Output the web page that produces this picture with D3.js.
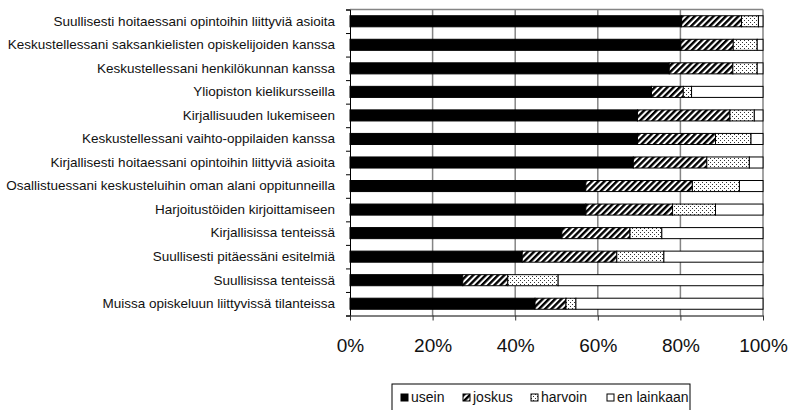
<!DOCTYPE html>
<html>
<head>
<meta charset="utf-8">
<script src="https://cdn.jsdelivr.net/npm/d3@7"></script>
<style>
  body { margin: 0; background: #fff; }
  svg { display: block; font-family: "Liberation Sans", Arial, sans-serif; }
</style>
</head>
<body>
<svg id="chart" width="793" height="410"></svg>
<script>
// categories, top to bottom
const categories = [
  "Suullisesti hoitaessani opintoihin liittyviä asioita",
  "Keskustellessani saksankielisten opiskelijoiden kanssa",
  "Keskustellessani henkilökunnan kanssa",
  "Yliopiston kielikursseilla",
  "Kirjallisuuden lukemiseen",
  "Keskustellessani vaihto-oppilaiden kanssa",
  "Kirjallisesti hoitaessani opintoihin liittyviä asioita",
  "Osallistuessani keskusteluihin oman alani oppitunneilla",
  "Harjoitustöiden kirjoittamiseen",
  "Kirjallisissa tenteissä",
  "Suullisesti pitäessäni esitelmiä",
  "Suullisissa tenteissä",
  "Muissa opiskeluun liittyvissä tilanteissa"
];
const seriesNames = ["usein", "joskus", "harvoin", "en lainkaan"];
// shares in percent, same order as categories
const usein      = [80.3, 80.1, 77.3, 73.0, 69.6, 69.6, 68.6, 57.1, 57.1, 51.3, 41.7, 27.3, 44.8];
const joskus     = [14.5, 12.7, 15.4,  7.7, 22.4, 18.9, 17.8, 25.8, 21.0, 16.5, 22.9, 10.9,  7.5];
const harvoin    = [ 4.1,  5.8,  5.9,  2.0,  5.9,  8.6, 10.3, 11.4, 10.4,  7.7, 11.4, 12.2,  2.4];
const enLainkaan = [ 1.1,  1.4,  1.4, 17.3,  2.1,  2.9,  3.3,  5.7, 11.5, 24.5, 24.0, 49.6, 45.3];
const xTicks = [0, 0.2, 0.4, 0.6, 0.8, 1];

const svg = d3.select("#chart");
const margin = {left: 350, right: 30, top: 9.5, bottom: 94.5};
const W = 793, H = 410;

const rows = categories.map((c, i) => ({
  cat: c,
  "usein": usein[i], "joskus": joskus[i], "harvoin": harvoin[i], "en lainkaan": enLainkaan[i]
}));
const stacked = d3.stack().keys(seriesNames)
  .value((d, k) => d[k] / 100)(rows);

const x = d3.scaleLinear().domain([0, 1]).range([margin.left, 763]);
const y = d3.scaleBand().domain(categories)
  .range([margin.top, H - margin.bottom])
  .paddingInner(0.53).paddingOuter(0.265);

// patterns
const defs = svg.append("defs");
defs.append("pattern")
  .attr("id", "hatch")
  .attr("patternUnits", "userSpaceOnUse")
  .attr("width", 4.4).attr("height", 4.4)
  .attr("patternTransform", "rotate(45)")
  .call(p => {
    p.append("rect").attr("width", 4.4).attr("height", 4.4).attr("fill", "#fff");
    p.append("rect").attr("width", 2.4).attr("height", 4.4).attr("fill", "#000");
  });
defs.append("pattern")
  .attr("id", "dots")
  .attr("patternUnits", "userSpaceOnUse")
  .attr("width", 4).attr("height", 4)
  .call(p => {
    p.append("rect").attr("width", 4).attr("height", 4).attr("fill", "#fff");
    p.append("rect").attr("x", 0).attr("y", 0).attr("width", 1).attr("height", 1).attr("fill", "#333");
    p.append("rect").attr("x", 2).attr("y", 2).attr("width", 1).attr("height", 1).attr("fill", "#333");
  });
const fills = {"usein": "#000", "joskus": "url(#hatch)", "harvoin": "url(#dots)", "en lainkaan": "#fff"};

// gridlines + top border
svg.append("g")
  .selectAll("line")
  .data(xTicks.slice(1))
  .join("line")
  .attr("x1", d => x(d)).attr("x2", d => x(d))
  .attr("y1", margin.top).attr("y2", H - margin.bottom)
  .attr("stroke", "#858585").attr("stroke-width", 1.5);
svg.append("line")
  .attr("x1", x(0)).attr("x2", x(1))
  .attr("y1", margin.top).attr("y2", margin.top)
  .attr("stroke", "#858585").attr("stroke-width", 1.5);

// bars
svg.append("g")
  .selectAll("g")
  .data(stacked)
  .join("g")
  .attr("fill", d => fills[d.key])
  .selectAll("rect")
  .data(d => d)
  .join("rect")
  .attr("x", d => x(d[0]))
  .attr("width", d => x(d[1]) - x(d[0]))
  .attr("y", d => y(d.data.cat))
  .attr("height", y.bandwidth())
  .attr("stroke", "#000").attr("stroke-width", 1);

// y axis: boundary ticks
const yb = d3.scaleLinear().domain([0, categories.length]).range([margin.top, H - margin.bottom]);
svg.append("g")
  .attr("transform", `translate(${x(0)},0)`)
  .call(d3.axisLeft(yb).tickValues(d3.range(categories.length + 1)).tickSize(4).tickFormat(""))
  .call(g => g.selectAll("line,path").attr("stroke", "#000"));

// y labels
svg.append("g")
  .attr("transform", `translate(${x(0) - 15},0)`)
  .call(d3.axisLeft(y).tickSize(0).tickPadding(0))
  .call(g => g.select(".domain").remove())
  .call(g => g.selectAll("text").attr("font-size", 13.5).attr("fill", "#111")
    .attr("font-family", "'Liberation Sans', Arial, sans-serif"));

// x axis
svg.append("g")
  .attr("transform", `translate(0,${H - margin.bottom})`)
  .call(d3.axisBottom(x).tickValues(xTicks).tickFormat(d3.format(".0%")).tickSize(5).tickPadding(18).tickSizeOuter(0))
  .call(g => g.selectAll("line").attr("stroke", "#333"))
  .call(g => g.select(".domain").attr("stroke", "#000"))
  .call(g => g.selectAll("text").attr("font-size", 19).attr("fill", "#111")
    .attr("font-family", "'Liberation Sans', Arial, sans-serif"));

// legend
const legend = svg.append("g").attr("transform", "translate(392,384)");
legend.append("rect")
  .attr("width", 298).attr("height", 32)
  .attr("fill", "#fff").attr("stroke", "#000").attr("stroke-width", 1);
const legendX = [9, 71, 139, 215];
const items = legend.selectAll("g.item")
  .data(seriesNames)
  .join("g")
  .attr("class", "item")
  .attr("transform", (d, i) => `translate(${legendX[i]},10)`);
items.append("rect")
  .attr("width", 7).attr("height", 7)
  .attr("fill", d => fills[d])
  .attr("stroke", "#000").attr("stroke-width", 1);
items.append("text")
  .attr("x", 10).attr("y", 7.5)
  .attr("font-size", 14)
  .attr("fill", "#111")
  .text(d => d);
</script>
</body>
</html>
